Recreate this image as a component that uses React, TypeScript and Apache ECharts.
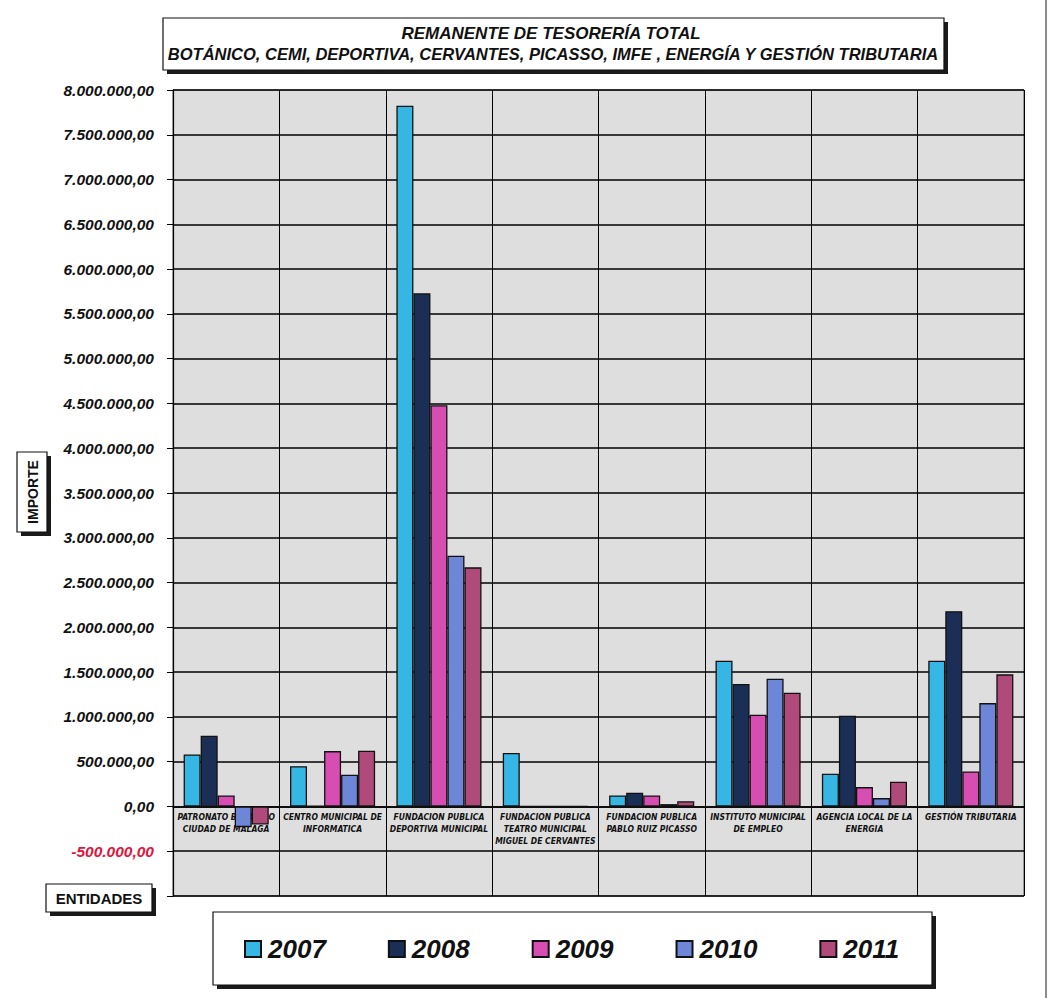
import React, { useEffect, useRef } from "react";
import * as echarts from "echarts";

// Entities (x-axis categories)
const entidades = [
  "PATRONATO BOTANICO\nCIUDAD DE MALAGA",
  "CENTRO MUNICIPAL DE\nINFORMATICA",
  "FUNDACION PUBLICA\nDEPORTIVA MUNICIPAL",
  "FUNDACION PUBLICA\nTEATRO MUNICIPAL\nMIGUEL DE CERVANTES",
  "FUNDACION PUBLICA\nPABLO RUIZ PICASSO",
  "INSTITUTO MUNICIPAL\nDE EMPLEO",
  "AGENCIA LOCAL DE LA\nENERGIA",
  "GESTIÓN TRIBUTARIA",
];

const years = ["2007", "2008", "2009", "2010", "2011"];

// Remanente de tesorería per year (euros)
const r2007 = [581000, 450000, 7825000, 596000, 123000, 1628000, 365000, 1628000];
const r2008 = [790000, 5000, 5730000, 0, 153000, 1367000, 1013000, 2180000];
const r2009 = [123000, 618000, 4480000, 0, 123000, 1025000, 216000, 391000];
const r2010 = [-231000, 354000, 2800000, 0, 26000, 1427000, 93000, 1154000];
const r2011 = [-201000, 622000, 2670000, 0, 59000, 1270000, 276000, 1475000];

const seriesValues = [r2007, r2008, r2009, r2010, r2011];
const seriesColors = ["#36B6E4", "#1B2E56", "#D84DB2", "#6D86D8", "#B04A7B"];

const fmtEs = (v: number) => {
  const neg = v < 0;
  const s = Math.abs(Math.round(v)).toString().replace(/\B(?=(\d{3})+(?!\d))/g, ".");
  return (neg ? "-" : "") + s + ",00";
};

const FONT = "'Liberation Sans', Arial, sans-serif";
const NARROW = "'DejaVu Sans Condensed', 'Liberation Sans Narrow', 'Liberation Sans', Arial, sans-serif";

export default function App() {
  const ref = useRef<HTMLDivElement>(null);

  useEffect(() => {
    document.body.style.margin = "0";
    if (!ref.current) return;
    const chart = echarts.init(ref.current, null, { renderer: "svg" });

    const shadowBox = (x: number, y: number, w: number, h: number, z = 1) => [
      { type: "rect", z, shape: { x: x + 4, y: y + 4, width: w, height: h }, style: { fill: "#1a1a1a" } },
      { type: "rect", z: z + 1, shape: { x, y, width: w, height: h }, style: { fill: "#ffffff", stroke: "#111", lineWidth: 1.2 } },
    ];

    chart.setOption({
      animation: false,
      backgroundColor: "#ffffff",
      grid: {
        left: 173,
        right: 32,
        top: 90,
        bottom: 102,
        show: true,
        backgroundColor: "#dedede",
        borderColor: "#555",
        borderWidth: 1,
      },
      xAxis: {
        type: "category",
        data: entidades,
        axisLine: { onZero: true, lineStyle: { color: "#000", width: 1.5 } },
        axisTick: { show: false },
        axisLabel: {
          interval: 0,
          // labels sit just under the zero line
          margin: -85,
          fontFamily: NARROW,
          fontSize: 8.5,
          fontWeight: "bold",
          fontStyle: "italic",
          color: "#111",
          lineHeight: 12,
        },
        splitLine: { show: true, interval: 0, lineStyle: { color: "#000", width: 1 } },
      },
      yAxis: {
        type: "value",
        min: -1000000,
        max: 8000000,
        interval: 500000,
        axisLine: { show: true, lineStyle: { color: "#000", width: 1.2 } },
        axisTick: { show: true, length: 6, lineStyle: { color: "#000" } },
        axisLabel: {
          margin: 19,
          fontFamily: FONT,
          fontSize: 15.5,
          fontWeight: "bold",
          fontStyle: "italic",
          color: (v: any) => (Number(v) < 0 ? "#E0143C" : "#111"),
          formatter: (v: number) => (v <= -1000000 ? "" : fmtEs(v)),
        },
        splitLine: { show: true, lineStyle: { color: "#000", width: 1.6 } },
      },
      legend: {
        data: years,
        left: 239,
        top: 931,
        itemWidth: 16,
        itemHeight: 16,
        itemGap: 62,
        icon: "rect",
        textStyle: {
          fontFamily: FONT,
          fontSize: 26,
          fontWeight: "bold",
          fontStyle: "italic",
          color: "#111",
          padding: [0, 0, 0, 2],
        },
        z: 10,
      },
      graphic: [
        // title box
        ...shadowBox(163, 18, 781, 52),
        {
          type: "text",
          z: 3,
          style: {
            x: 551,
            y: 33,
            text: "REMANENTE DE TESORERÍA TOTAL",
            align: "center",
            verticalAlign: "middle",
            font: `italic bold 17px ${FONT}`,
            fill: "#111",
          },
        },
        {
          type: "text",
          z: 3,
          style: {
            x: 553,
            y: 54,
            text: "BOTÁNICO, CEMI, DEPORTIVA, CERVANTES, PICASSO, IMFE , ENERGÍA Y GESTIÓN TRIBUTARIA",
            align: "center",
            verticalAlign: "middle",
            font: `italic bold 16.5px ${FONT}`,
            fill: "#111",
          },
        },
        // y-axis name box
        ...shadowBox(17, 452, 30, 80),
        {
          type: "text",
          z: 3,
          x: 33,
          y: 492,
          rotation: Math.PI / 2,
          style: {
            x: 0,
            y: 0,
            text: "IMPORTE",
            align: "center",
            verticalAlign: "middle",
            font: `bold 14px ${FONT}`,
            fill: "#111",
          },
        },
        // x-axis name box
        ...shadowBox(46, 884, 106, 28),
        {
          type: "text",
          z: 3,
          style: {
            x: 99,
            y: 898,
            text: "ENTIDADES",
            align: "center",
            verticalAlign: "middle",
            font: `bold 15px ${FONT}`,
            fill: "#111",
          },
        },
        // legend frame
        ...shadowBox(213, 912, 719, 73, 0),
        // page edge
        {
          type: "line",
          z: 0,
          shape: { x1: 1046, y1: 0, x2: 1046, y2: 998 },
          style: { stroke: "#666", lineWidth: 1.5 },
        },
      ],
      series: years.map((y, i) => ({
        name: y,
        type: "bar",
        data: seriesValues[i],
        barGap: "0%",
        barCategoryGap: "20%",
        itemStyle: { color: seriesColors[i], borderColor: "#111", borderWidth: 1.3 },
      })),
    });

    return () => chart.dispose();
  }, []);

  return (
    <div
      ref={ref}
      style={{ position: "absolute", left: 0, top: 0, width: 1056, height: 998 }}
    />
  );
}
